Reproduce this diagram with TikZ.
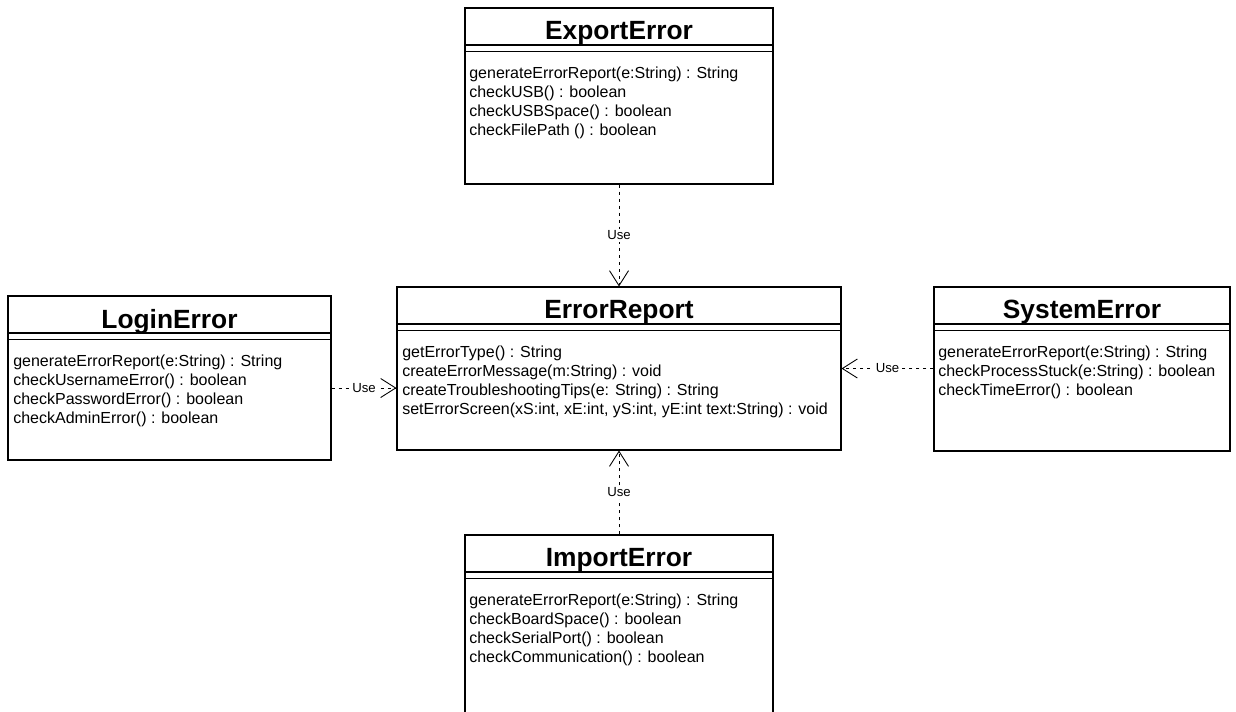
\documentclass[tikz,border=0pt]{standalone}
\usepackage{fontspec}
\setmainfont{Liberation Sans}
\usetikzlibrary{arrows.meta, positioning, calc}

\begin{document}
\begin{tikzpicture}[
    cls/.style={rectangle, draw=black, line width=0.6pt, inner sep=0pt},
    title/.style={font=\fontsize{15}{18}\selectfont\bfseries, inner sep=0pt},
    ops/.style={font=\fontsize{9.1}{10.7}\selectfont, align=left, inner sep=0pt, anchor=north west},
    use/.style={-{Straight Barb[length=0.3cm, width=0.38cm]}, dash pattern=on 2pt off 2pt, line width=0.5pt},
    lbl/.style={font=\fontsize{7.5}{9}\selectfont, fill=white, inner sep=1pt},
  ]
  \useasboundingbox (0,0) rectangle (24.72,-14.22);

  % Klassen
  \node[cls, minimum width=6.16cm, minimum height=3.52cm] (export) at (12.38,-1.92) {};
  \node[cls, minimum width=8.88cm, minimum height=3.26cm] (report) at (12.38,-7.37) {};
  \node[cls, minimum width=6.46cm, minimum height=3.28cm] (login) at (3.39,-7.56) {};
  \node[cls, minimum width=5.92cm, minimum height=3.28cm] (system) at (21.64,-7.38) {};
  \node[cls, minimum width=6.16cm, minimum height=3.60cm] (import) at (12.38,-12.50) {};

  % Klassennamen + Trennlinien
  \node[title] (exportT) at ($(export.north)+(0,-0.52)$) {ExportError};
  \node[title] (reportT) at ($(report.north)+(0,-0.52)$) {ErrorReport};
  \node[title] (loginT) at ($(login.north)+(0,-0.52)$) {LoginError};
  \node[title] (systemT) at ($(system.north)+(0,-0.52)$) {SystemError};
  \node[title] (importT) at ($(import.north)+(0,-0.52)$) {ImportError};
  \foreach \c in {export, report, login, system, import} {
    \draw[line width=0.6pt] ([yshift=-0.75cm]\c.north west) -- ([yshift=-0.75cm]\c.north east);
    \draw[line width=0.6pt] ([yshift=-0.88cm]\c.north west) -- ([yshift=-0.88cm]\c.north east);
  }

  % Methoden
  \node[ops] (exportM) at ($(export.north west)+(0.09,-1.19)$) {generateErrorReport(e:String) : String\\
    checkUSB() : boolean\\ checkUSBSpace() : boolean\\ checkFilePath () : boolean};
  \node[ops] (reportM) at ($(report.north west)+(0.11,-1.19)$) {getErrorType() : String\\
    createErrorMessage(m:String) : void\\ createTroubleshootingTips(e: String) : String\\
    setErrorScreen(xS:int, xE:int, yS:int, yE:int text:String) : void};
  \node[ops] (loginM) at ($(login.north west)+(0.11,-1.19)$) {generateErrorReport(e:String) : String\\
    checkUsernameError() : boolean\\ checkPasswordError() : boolean\\ checkAdminError() : boolean};
  \node[ops] (systemM) at ($(system.north west)+(0.09,-1.19)$) {generateErrorReport(e:String) : String\\
    checkProcessStuck(e:String) : boolean\\ checkTimeError() : boolean};
  \node[ops] (importM) at ($(import.north west)+(0.09,-1.19)$) {generateErrorReport(e:String) : String\\
    checkBoardSpace() : boolean\\ checkSerialPort() : boolean\\ checkCommunication() : boolean};

  % Abhaengigkeiten
  \draw[use] (export.south) -- node[lbl] {Use} (report.north);
  \draw[use] (import.north) -- node[lbl] {Use} (report.south);
  \draw[use] ([yshift=-0.2cm]login.east) -- node[lbl] {Use} ([yshift=-0.2cm]login.east -| report.west);
  \draw[use] (system.west |- report.center) -- node[lbl] {Use} (report.east);
\end{tikzpicture}
\end{document}
